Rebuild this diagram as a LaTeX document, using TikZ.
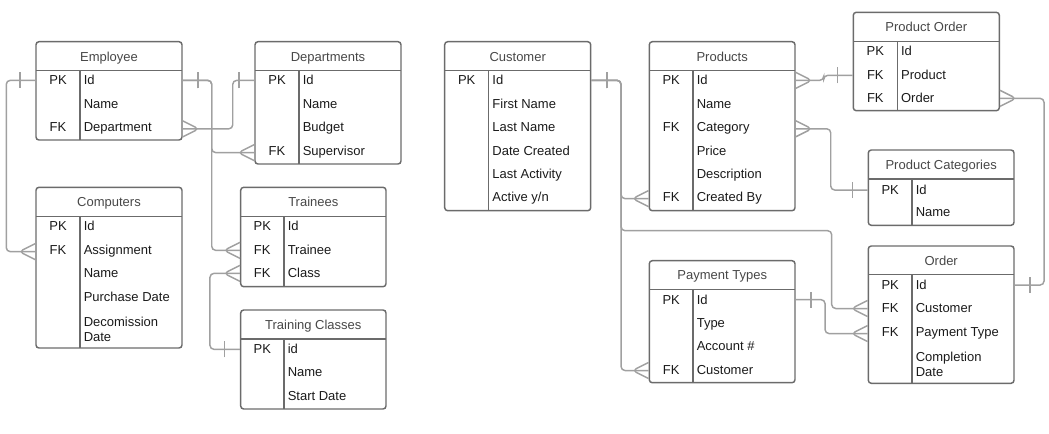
\documentclass[tikz,border=0pt]{standalone}
\usepackage{fontspec}
\setmainfont{Liberation Sans}
\usetikzlibrary{fit,decorations.markings}
\definecolor{erframe}{HTML}{6B6B6B}
\definecolor{ertitle}{HTML}{474747}
\definecolor{ertext}{HTML}{1A1A1A}
\definecolor{erlink}{HTML}{A0A0A0}
\newcommand{\erfont}{\fontsize{9.75pt}{11.25pt}\selectfont}
\tikzset{
  entity/.style={draw=erframe, line width=1.1pt, rounded corners=2.25pt, inner sep=0pt},
  rules/.style={draw=erframe, line width=1.1pt},
  titlecell/.style={text=ertitle, anchor=mid, inner sep=0pt, yshift=-1pt, font=\erfont},
  keycell/.style={text=ertext, anchor=mid, inner sep=0pt, yshift=-1.1pt, font=\erfont},
  fieldcell/.style={text=ertext, anchor=mid west, inner sep=0pt, yshift=-1.1pt, font=\erfont},
  link/.style={draw=erlink, line width=1.1pt, rounded corners=3pt},
  one start/.style={postaction={decorate, decoration={markings,
    mark=at position 11.5pt with {\draw[erlink, line width=1.1pt] (0,-6pt) -- (0,6pt);}}}},
  one end/.style={postaction={decorate, decoration={markings,
    mark=at position -11.5pt with {\draw[erlink, line width=1.1pt] (0,-6pt) -- (0,6pt);}}}},
  many start/.style={postaction={decorate, decoration={markings,
    mark=at position 0.01pt with {\draw[erlink, line width=1.1pt] (0,6pt) -- (12pt,0) -- (0,-6pt);}}}},
  many end/.style={postaction={decorate, decoration={markings,
    mark=at position -0.01pt with {\draw[erlink, line width=1.1pt] (0,6pt) -- (-12pt,0) -- (0,-6pt);}}}}
}
\begin{document}
\begin{tikzpicture}[x=0.75pt, y=-0.75pt]
\useasboundingbox (0,0) rectangle (1049,433);
% Employee
\node[entity, fit={(36,41.7) (182,140)}] (emp) {};
\draw[rules] (36,70.7) -- (182,70.7) (80,70.7) -- (80,140);
\node[titlecell] at (109,56.2) {Employee};
\node[keycell] at (58,80) {PK};
\node[fieldcell] (emp-id) at (83.5,80) {Id};
\node[fieldcell] (emp-name) at (83.5,104) {Name};
\node[keycell] at (58,127) {FK};
\node[fieldcell] (emp-dep) at (83.5,127) {Department};
% Departments
\node[entity, fit={(255,41.7) (401,164)}] (dep) {};
\draw[rules] (255,70.7) -- (401,70.7) (299,70.7) -- (299,164);
\node[titlecell] at (328,56.2) {Departments};
\node[keycell] at (277,80) {PK};
\node[fieldcell] (dep-id) at (302.5,80) {Id};
\node[fieldcell] (dep-name) at (302.5,104) {Name};
\node[fieldcell] (dep-bud) at (302.5,127) {Budget};
\node[keycell] at (277,151) {FK};
\node[fieldcell] (dep-sup) at (302.5,151) {Supervisor};
% Computers
\node[entity, fit={(36,187.3) (182,348)}] (cmp) {};
\draw[rules] (36,216.7) -- (182,216.7) (80,216.7) -- (80,348);
\node[titlecell] at (109,202) {Computers};
\node[keycell] at (58,226) {PK};
\node[fieldcell] (cmp-id) at (83.5,226) {Id};
\node[keycell] at (58,250) {FK};
\node[fieldcell] (cmp-asg) at (83.5,250) {Assignment};
\node[fieldcell] (cmp-name) at (83.5,273) {Name};
\node[fieldcell] (cmp-buy) at (83.5,297) {Purchase Date};
\node[fieldcell, anchor=west, align=left] (cmp-end) at (83.5,327.5) {Decomission\\Date};
% Trainees
\node[entity, fit={(240.7,187.3) (386,286.7)}] (trn) {};
\draw[rules] (240.7,216.7) -- (386,216.7) (284,216.7) -- (284,286.7);
\node[titlecell] at (313.3,202) {Trainees};
\node[keycell] at (262.3,226) {PK};
\node[fieldcell] (trn-id) at (287.5,226) {Id};
\node[keycell] at (262.3,250) {FK};
\node[fieldcell] (trn-trn) at (287.5,250) {Trainee};
\node[keycell] at (262.3,273) {FK};
\node[fieldcell] (trn-cls) at (287.5,273) {Class};
% Training Classes
\node[entity, fit={(240.7,310) (386,409)}] (tcl) {};
\draw[rules] (240.7,339) -- (386,339) (284,339) -- (284,409);
\node[titlecell] at (313.3,324.5) {Training Classes};
\node[keycell] at (262.3,349) {PK};
\node[fieldcell] (tcl-id) at (287.5,349) {id};
\node[fieldcell] (tcl-name) at (287.5,372) {Name};
\node[fieldcell] (tcl-start) at (287.5,396) {Start Date};
% Customer
\node[entity, fit={(444.7,41.7) (590.7,210.7)}] (cus) {};
\draw[rules] (444.7,70.7) -- (590.7,70.7) (488.7,70.7) -- (488.7,210.7);
\node[titlecell] at (517.7,56.2) {Customer};
\node[keycell] at (466.7,80) {PK};
\node[fieldcell] (cus-id) at (492.2,80) {Id};
\node[fieldcell] (cus-first) at (492.2,104) {First Name};
\node[fieldcell] (cus-last) at (492.2,127) {Last Name};
\node[fieldcell] (cus-made) at (492.2,151) {Date Created};
\node[fieldcell] (cus-act) at (492.2,174) {Last Activity};
\node[fieldcell] (cus-yn) at (492.2,197) {Active y/n};
% Products
\node[entity, fit={(649.3,41.7) (795,210.7)}] (prd) {};
\draw[rules] (649.3,70.7) -- (795,70.7) (693,70.7) -- (693,210.7);
\node[titlecell] at (722.2,56.2) {Products};
\node[keycell] at (671.2,80) {PK};
\node[fieldcell] (prd-id) at (696.5,80) {Id};
\node[fieldcell] (prd-name) at (696.5,104) {Name};
\node[keycell] at (671.2,127) {FK};
\node[fieldcell] (prd-cat) at (696.5,127) {Category};
\node[fieldcell] (prd-price) at (696.5,151) {Price};
\node[fieldcell] (prd-desc) at (696.5,174) {Description};
\node[keycell] at (671.2,197) {FK};
\node[fieldcell] (prd-by) at (696.5,197) {Created By};
% Product Order
\node[entity, fit={(853.3,12.3) (999.3,110.7)}] (po) {};
\draw[rules] (853.3,41.7) -- (999.3,41.7) (897.3,41.7) -- (897.3,110.7);
\node[titlecell] at (926.3,27) {Product Order};
\node[keycell] at (875.3,51) {PK};
\node[fieldcell] (po-id) at (900.8,51) {Id};
\node[keycell] at (875.3,75) {FK};
\node[fieldcell] (po-prd) at (900.8,75) {Product};
\node[keycell] at (875.3,98) {FK};
\node[fieldcell] (po-ord) at (900.8,98) {Order};
% Product Categories
\node[entity, fit={(868.3,150) (1014,225.3)}] (pc) {};
\draw[rules] (868.3,179) -- (1014,179) (912,179) -- (912,225.3);
\node[titlecell] at (941.2,164.5) {Product Categories};
\node[keycell] at (890.2,189.7) {PK};
\node[fieldcell] (pc-id) at (915.5,189.7) {Id};
\node[fieldcell] (pc-name) at (915.5,212) {Name};
% Payment Types
\node[entity, fit={(649.3,260.7) (795,382.7)}] (pay) {};
\draw[rules] (649.3,289.3) -- (795,289.3) (693,289.3) -- (693,382.7);
\node[titlecell] at (722.2,275) {Payment Types};
\node[keycell] at (671.2,299.3) {PK};
\node[fieldcell] (pay-id) at (696.5,299.3) {Id};
\node[fieldcell] (pay-type) at (696.5,323) {Type};
\node[fieldcell] (pay-acc) at (696.5,346) {Account \#};
\node[keycell] at (671.2,370) {FK};
\node[fieldcell] (pay-cus) at (696.5,370) {Customer};
% Order
\node[entity, fit={(868.3,246) (1014,383.3)}] (ord) {};
\draw[rules] (868.3,274.7) -- (1014,274.7) (912,274.7) -- (912,383.3);
\node[titlecell] at (941.2,260.3) {Order};
\node[keycell] at (890.2,284.7) {PK};
\node[fieldcell] (ord-id) at (915.5,284.7) {Id};
\node[keycell] at (890.2,308) {FK};
\node[fieldcell] (ord-cus) at (915.5,308) {Customer};
\node[keycell] at (890.2,331.7) {FK};
\node[fieldcell] (ord-pay) at (915.5,331.7) {Payment Type};
\node[fieldcell, anchor=west, align=left] (ord-done) at (915.5,362.5) {Completion\\Date};
% relations
\draw[link, one start, many end] (emp.west |- emp-id) -- ++(-29,0) |- (cmp.west |- cmp-asg);
\draw[link, one start, many end] (emp.east |- emp-id) -- ++(29,0) |- (dep.west |- dep-sup);
\draw[link, one start, many end] (emp.east |- emp-id) -- ++(29,0) |- (trn.west |- trn-trn);
\draw[link, many start, one end] (emp.east |- emp-dep) -- ++(50,0) |- (dep.west |- dep-id);
\draw[link, many start, one end] (trn.west |- trn-cls) -- ++(-30,0) |- (tcl.west |- tcl-id);
\draw[link, one start, many end] (cus.east |- cus-id) -- ++(29.6,0) |- (prd.west |- prd-by);
\draw[link, one start, many end] (cus.east |- cus-id) -- ++(29.6,0) |- (pay.west |- pay-cus);
\draw[link, one start, many end] (cus.east |- cus-id) -- ++(29.6,0) |- (831.7,230.7) |- (ord.west |- ord-cus);
\draw[link, many start, one end] (prd.east |- prd-id) -- ++(28,0) |- (po.west |- po-prd);
\draw[link, many start, one end] (prd.east |- prd-cat) -- ++(35,0) |- (pc.west |- pc-id);
\draw[link, many start, one end] (po.east |- po-ord) -- ++(44,0) |- (ord.east |- ord-id);
\draw[link, one start, many end] (pay.east |- pay-id) -- ++(29.3,0) |- (ord.west |- ord-pay);
\end{tikzpicture}
\end{document}
